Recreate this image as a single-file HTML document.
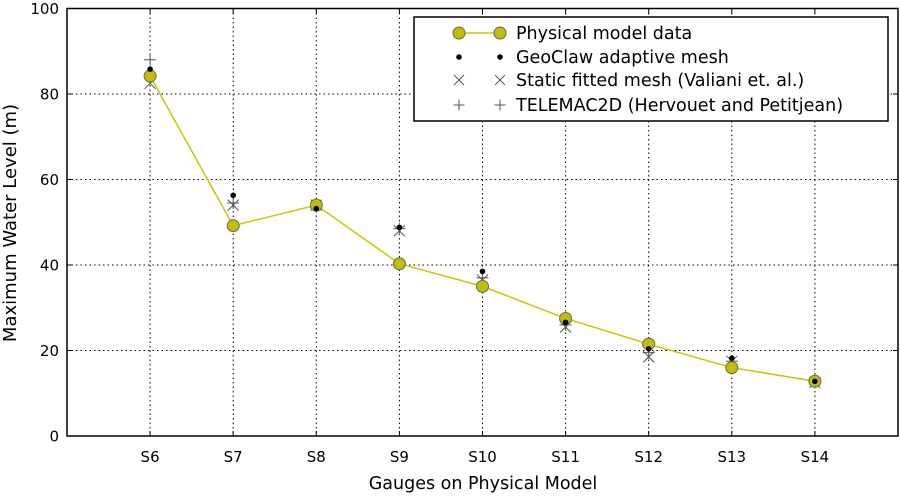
<!DOCTYPE html>
<html><head><meta charset="utf-8"><style>
body{margin:0;background:#fff}
svg text{font-family:"DejaVu Sans","Liberation Sans",sans-serif;fill:#000}
</style></head><body>
<svg id="chart" width="900" height="494"></svg>
<script>
const categories=["S6","S7","S8","S9","S10","S11","S12","S13","S14"];
const physical=[84.2,49.2,54,40.3,35,27.5,21.5,16,12.8];
const geoclaw=[85.8,56.3,53.2,48.8,38.5,26.6,20.4,18.2,12.8];
const staticMesh=[82.5,54,54,48,36.5,25.5,18.5,17.5,12.5];
const telemac=[88,54.5,54,48.5,37,26,19.5,17.5,12.5];
const yTicks=[0,20,40,60,80,100];

const svg=document.getElementById('chart');
const NS='http://www.w3.org/2000/svg';
const L=67,R=898,T=8.5,B=436;
const xs=i=>L+(i+1)*(R-L)/10;
const ys=v=>B-v*(B-T)/100;
function el(tag,attrs,parent){const e=document.createElementNS(NS,tag);for(const k in attrs)e.setAttribute(k,attrs[k]);(parent||svg).appendChild(e);return e;}

yTicks.forEach(t=>{
  if(t>0&&t<100){const g=el('line',{x1:L,x2:R,y1:ys(t),y2:ys(t),stroke:'#000','stroke-width':1,'stroke-dasharray':'1.5,3'});
  
  }
  el('line',{x1:L,x2:L+5,y1:ys(t),y2:ys(t),stroke:'#000'});
  el('line',{x1:R,x2:R-5,y1:ys(t),y2:ys(t),stroke:'#000'});
  const tx=el('text',{x:L-8,y:ys(t)+5.5,'text-anchor':'end','font-size':15});tx.textContent=t;
  
  
});
categories.forEach((c,i)=>{
  const g=el('line',{x1:xs(i),x2:xs(i),y1:T,y2:B,stroke:'#000','stroke-width':1,'stroke-dasharray':'1.5,3'});
  
  
  el('line',{x1:xs(i),x2:xs(i),y1:B,y2:B-5,stroke:'#000'});
  el('line',{x1:xs(i),x2:xs(i),y1:T,y2:T+5,stroke:'#000'});
  const tx=el('text',{x:xs(i),y:B+26,'text-anchor':'middle','font-size':15});tx.textContent=c;
  
  
});
const frame=el('rect',{x:L,y:T,width:R-L,height:B-T,fill:'none',stroke:'#000','stroke-width':1.5});



function drawCross(x,y,s,p){el('line',{x1:x-s,y1:y-s,x2:x+s,y2:y+s,stroke:'#555','stroke-width':1},p);el('line',{x1:x-s,y1:y+s,x2:x+s,y2:y-s,stroke:'#555','stroke-width':1},p);}
function drawPlus(x,y,s,p){el('line',{x1:x-s,y1:y,x2:x+s,y2:y,stroke:'#555','stroke-width':1},p);el('line',{x1:x,y1:y-s,x2:x,y2:y+s,stroke:'#555','stroke-width':1},p);}

const line=el('polyline',{points:physical.map((v,i)=>xs(i)+','+ys(v)).join(' '),fill:'none',stroke:'#c8c800','stroke-width':1.5});



const gS=el('g',{});
staticMesh.forEach((v,i)=>drawCross(xs(i),ys(v),5.5,gS));
const gT=el('g',{});
telemac.forEach((v,i)=>drawPlus(xs(i),ys(v),6,gT));
physical.forEach((v,i)=>{const c=el('circle',{cx:xs(i),cy:ys(v),r:6,fill:'#c0c000',stroke:'#666','stroke-width':1});
  
  });
geoclaw.forEach((v,i)=>{const c=el('circle',{cx:xs(i),cy:ys(v),r:2.8,fill:'#000'});
  
  });

const lg=el('g',{});
el('rect',{x:414,y:17,width:474,height:104,fill:'#fff',stroke:'#000','stroke-width':1.5},lg);
const ly=[33,57,80,105];
const labels=["Physical model data","GeoClaw adaptive mesh","Static fitted mesh (Valiani et. al.)","TELEMAC2D (Hervouet and Petitjean)"];
el('line',{x1:459,x2:500,y1:ly[0],y2:ly[0],stroke:'#c8c800','stroke-width':1.5},lg);
[459,500].forEach(x=>{
  el('circle',{cx:x,cy:ly[0],r:6,fill:'#c0c000',stroke:'#666'},lg);
  el('circle',{cx:x,cy:ly[1],r:2.8,fill:'#000'},lg);
  drawCross(x,ly[2],5,lg);
  drawPlus(x,ly[3],5.5,lg);
});
labels.forEach((t,i)=>{const tx=el('text',{x:516,y:ly[i]+6,'font-size':17.5},lg);tx.textContent=t;
  
  });

const xt=el('text',{x:483,y:489,'text-anchor':'middle','font-size':17.5});xt.textContent='Gauges on Physical Model';


const yt=el('text',{x:0,y:0,'text-anchor':'middle','font-size':18,transform:'translate(16,223) rotate(-90)'});yt.textContent='Maximum Water Level (m)';


</script>
</body></html>
